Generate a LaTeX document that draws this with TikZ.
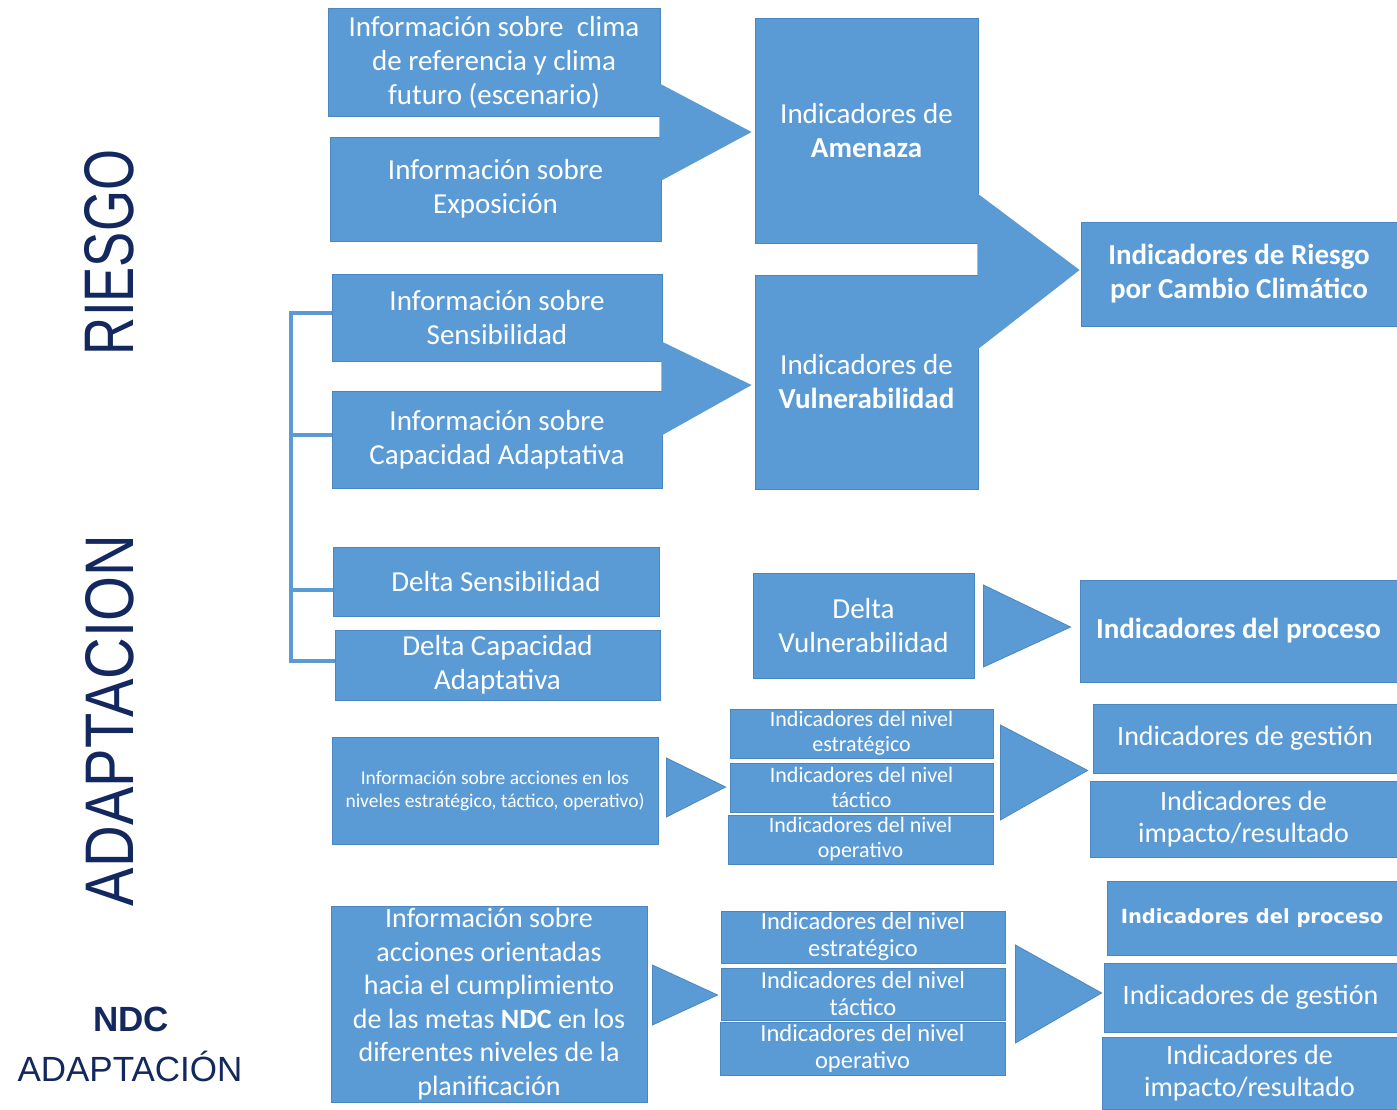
\documentclass[tikz,border=0pt]{standalone}
\usepackage{fontspec}
\setmainfont{Carlito}
\newfontfamily\labfont{Liberation Sans}
\newfontfamily\wbold{DejaVu Sans}
\usetikzlibrary{calc}
\definecolor{boxblue}{HTML}{5B9BD5}
\definecolor{edgeblue}{HTML}{4A86BF}
\definecolor{navy}{HTML}{13285E}
\begin{document}
\begin{tikzpicture}[x=1pt,y=-1pt,
  box/.style={fill=boxblue, draw=edgeblue, line width=0.8pt, text=white, align=center, inner sep=0pt,
    font=\fontsize{29}{34}\selectfont},
  midtext/.style={font=\fontsize{28}{32.5}\selectfont},
  smalltext/.style={font=\fontsize{19.5}{23}\selectfont},
  lvltext/.style={font=\fontsize{22}{25}\selectfont},
  lvltextb/.style={font=\fontsize{24.5}{27}\selectfont},
  blk/.style={fill=boxblue, draw=edgeblue, line width=0.8pt},
  blkm/.style={fill=boxblue},
  brk/.style={draw=boxblue, line width=4pt},
  lab/.style={text=navy, inner sep=0pt}]
\useasboundingbox (0,0) rectangle (1397,1109);

% ---------- RIESGO ----------
\node[box, minimum width=332pt, minimum height=108pt] (A) at (494,62)
  {Información sobre\ \ clima\\de referencia y clima\\futuro (escenario)};
\node[box, minimum width=331pt, minimum height=104pt] (B) at (495.5,189)
  {Información sobre\\Exposición};
\node[box, minimum width=223pt, minimum height=225pt] (C) at (866.5,130.5)
  {Indicadores de\\\textbf{Amenaza}};
\node[box, minimum width=223pt, minimum height=214pt] (D) at (866.5,382)
  {Indicadores de\\\textbf{Vulnerabilidad}};
\node[box, minimum width=316pt, minimum height=104pt] (E) at (1239,274)
  {\textbf{Indicadores de Riesgo}\\\textbf{por Cambio Climático}};
\node[box, minimum width=330pt, minimum height=87pt] (F) at (497,317.5)
  {Información sobre\\Sensibilidad};
\node[box, minimum width=330pt, minimum height=97pt] (G) at (497,439.5)
  {Información sobre\\Capacidad Adaptativa};

% merged block arrows
\fill[blkm] ($(A.south east)+(-1,-33)$) -- ($(C.west)+(-3,1.5)$) -- ($(B.north east)+(-2,45)$) -- cycle;
\fill[blkm] ($(F.south east)+(-1,-20)$) -- ($(D.west)+(-3,3)$) -- ($(G.north east)+(-1,45)$) -- cycle;
\fill[blkm] ($(C.south east)+(-1,-50)$) -- ($(E.west)+(-1,-4)$) -- ($(D.north east)+(-1,75)$) -- cycle;

% ---------- ADAPTACION ----------
\node[box, minimum width=326pt, minimum height=69pt] (H) at (496,581.5)
  {Delta Sensibilidad};
\node[box, minimum width=325pt, minimum height=70pt] (I) at (497.5,665)
  {Delta Capacidad\\Adaptativa};
\node[box, minimum width=221pt, minimum height=105pt] (J) at (863.5,625.5)
  {Delta\\Vulnerabilidad};
\node[box, minimum width=317pt, minimum height=102pt] (K) at (1238.5,631)
  {\textbf{Indicadores del proceso}};
\draw[blk] ($(J.east)+(9,-40.5)$) -- ($(K.west)+(-9,-4)$) -- ($(J.east)+(9,41.5)$) -- cycle;

% bracket
\draw[brk] ($(F.west)+(0,-5)$) -- ($(F.west)+(-41,-5)$) -- ($(I.west)+(-44,-4)$) -- ($(I.west)+(0,-4)$);
\draw[brk] ($(G.west)+(0,-5)$) -- ($(G.west)+(-41,-5)$);
\draw[brk] ($(H.west)+(0,8.5)$) -- ($(H.west)+(-42,8.5)$);

\node[box, smalltext, minimum width=326pt, minimum height=107pt] (L) at (495,790.5)
  {Información sobre acciones en los\\niveles estratégico, táctico, operativo)};
\node[box, lvltext, minimum width=263pt, minimum height=49pt] (M1) at (861.5,733.5)
  {Indicadores del nivel\\estratégico};
\node[box, lvltext, minimum width=263pt, minimum height=49pt] (M2) at (861.5,787.5)
  {Indicadores del nivel\\táctico};
\node[box, lvltext, minimum width=265pt, minimum height=49pt] (M3) at (860.5,839.5)
  {Indicadores del nivel\\operativo};
\node[box, midtext, minimum width=304pt, minimum height=69pt] (N) at (1245,738.5)
  {Indicadores de gestión};
\node[box, midtext, minimum width=307pt, minimum height=76pt] (O) at (1243.5,819)
  {Indicadores de\\impacto/resultado};
\draw[blk] ($(L.east)+(8,-32.5)$) -- ($(M2.west)+(-4,-0.5)$) -- ($(L.east)+(8,26.5)$) -- cycle;
\draw[blk] ($(M2.east)+(7,-62.5)$) -- ($(N.south west)+(-5,-3)$) -- ($(M2.east)+(7,32.5)$) -- cycle;

% ---------- NDC ----------
\node[box, font=\fontsize{28}{33.6}\selectfont, minimum width=316pt, minimum height=196pt] (P) at (489,1004)
  {Información sobre\\acciones orientadas\\hacia el cumplimiento\\de las metas \textbf{NDC} en los\\diferentes niveles de la\\planificación};
\node[box, lvltextb, minimum width=284pt, minimum height=52pt] (Q1) at (863,937)
  {Indicadores del nivel\\estratégico};
\node[box, lvltextb, minimum width=284pt, minimum height=52pt] (Q2) at (863,994)
  {Indicadores del nivel\\táctico};
\node[box, lvltextb, minimum width=285pt, minimum height=53pt] (Q3) at (862.5,1048.5)
  {Indicadores del nivel\\operativo};
\node[box, font=\wbold\bfseries\fontsize{19.5}{23}\selectfont, minimum width=290pt, minimum height=74pt] (R) at (1252,918)
  {Indicadores del proceso};
\node[box, midtext, minimum width=293pt, minimum height=69pt] (S) at (1250.5,997.5)
  {Indicadores de gestión};
\node[box, midtext, minimum width=295pt, minimum height=72pt] (T) at (1249.5,1073)
  {Indicadores de\\impacto/resultado};
\draw[blk] ($(P.east)+(5,-39)$) -- ($(Q2.west)+(-3,1)$) -- ($(P.east)+(5,21)$) -- cycle;
\draw[blk] ($(Q2.east)+(10,-49)$) -- ($(S.west)+(-2,-4.5)$) -- ($(Q2.east)+(10,49)$) -- cycle;

% ---------- side labels ----------
\node[lab, rotate=90] (riesgo) at (109,252.5) {\labfont\resizebox{205pt}{49pt}{RIESGO}};
\node[lab, rotate=90] (adapt) at (110,720.5) {\labfont\resizebox{371pt}{48pt}{ADAPTACION}};
\node[lab, anchor=base, font={\labfont\fontsize{35}{40}\selectfont\bfseries}] (ndc) at (131,1031) {NDC};
\node[lab, anchor=base, font={\labfont\fontsize{35}{40}\selectfont}] (ndcad) at (130,1081) {ADAPTACIÓN};
\end{tikzpicture}
\end{document}
